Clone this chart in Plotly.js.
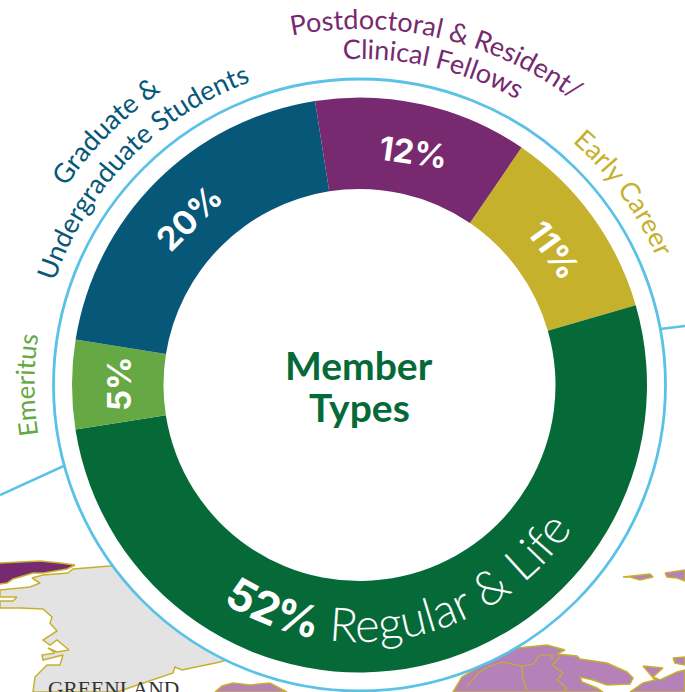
<!DOCTYPE html>
<html>
<head>
<meta charset="utf-8">
<script src="https://cdn.plot.ly/plotly-3.0.1.min.js"></script>
<style>html,body{margin:0;padding:0;background:#fff;overflow:hidden}#chart{width:685px;height:692px}</style>
</head>
<body>
<div id="chart"></div>
<script>
// Data
const categories = ["Early Career", "Regular & Life", "Emeritus", "Graduate & Undergraduate Students", "Postdoctoral & Resident/ Clinical Fellows"];
const shares = [11, 52, 5, 20, 12];
const sliceColors = ["#c6b12d", "#066a38", "#65a844", "#075779", "#772a6f"];

// Map fragments behind the ring
const greenlandX = [130,110,73,68,43,32,40,30,0,0,17,13,0,0,20,43,52,50,57,43,50,57,69,57,48,55,42,43,63,60,47,35,33,117,173,175,182,220,260,260,130];
const greenlandY = [565,566,569,573,575,578,583,587,590,597,597,601,601,608,608,609,617,623,631,640,645,640,650,652,648,653,655,660,655,665,665,677,692,692,673,667,670,662,650,560,565];
const baffinX = [0,20,40,60,75,67,43,33,13,7,0];
const baffinY = [563,562,561,563,565,569,573,573,579,583,584];
const scandX = [453,462,477,500,517,533,547,565,557,577,580,607,627,633,630,607,593,580,582,597,603,453];
const scandY = [692,677,668,655,648,646,645,650,654,656,659,663,672,678,684,685,680,677,682,688,692,692];
const russiaX = [630,643,655,643,663,653,660,677,685,685,630];
const russiaY = [692,683,680,666,668,677,680,672,670,692,692];
const icelandX = [215,222,233,250,270,287,215];
const icelandY = [692,686,683,685,683,692,692];
const arctic1X = [623,650,653,640,630,623];
const arctic1Y = [577,574,577,580,577,577];
const arctic2X = [665,677,685,685,677,667,665];
const arctic2Y = [573,571,570,581,578,577,573];
const arctic3X = [673,685,685,675,673];
const arctic3Y = [658,657,665,663,658];
const border1X = [467,478,488,503,522,533,540,552,552];
const border1Y = [687,673,667,662,666,664,655,655,660];
const border2X = [522,523,527];
const border2Y = [666,680,690];
const border3X = [560,552,563,557,567,563];
const border3Y = [657,665,673,680,688,692];
const leaderLeftX = [0,90];
const leaderLeftY = [495,454];
const leaderRightX = [660,685];
const leaderRightY = [329,326];

// Percent label placement (page px) and curved-label arcs
const pctX = [554, 119, 189, 413];
const pctY = [250, 384, 218, 152];
const pctAngle = [54, -90, -45, 8];
const pctIndex = [0, 2, 3, 4];

const curvedText = ["Graduate &", "Undergraduate Students", "Postdoctoral & Resident/", "Clinical Fellows", "Early Career", "Emeritus"];
const curvedColor = ["#075779", "#075779", "#772a6f", "#772a6f", "#c6b12d", "#65a844"];
const curvedRadius = [354, 322, 356, 326, 323, 325];
const curvedMid = [-45, -45.5, 13, 13, 54, -90];
const curvedSize = [27, 27, 27, 27, 27, 26];

const W = 685, H = 692, CX = 359.5, CY = 385, R = 287.5, RING = 306;

function poly(x, y, fill) {
  return {type:"scatter", mode:"lines", x:x, y:y, fill:"toself", fillcolor:fill,
          line:{color:"#c6b12d", width:1.5}, hoverinfo:"skip", showlegend:false};
}
function line(x, y, color, width) {
  return {type:"scatter", mode:"lines", x:x, y:y, line:{color:color, width:width},
          hoverinfo:"skip", showlegend:false};
}
function domainFor(r) {
  return {x:[(CX-r)/W, (CX+r)/W], y:[(H-CY-r)/H, (H-CY+r)/H]};
}

const traces = [
  poly(greenlandX, greenlandY, "#e3e3e3"),
  poly(baffinX, baffinY, "#772a6f"),
  poly(scandX, scandY, "#b481b8"),
  poly(russiaX, russiaY, "#b481b8"),
  poly(icelandX, icelandY, "#b481b8"),
  poly(arctic1X, arctic1Y, "#b481b8"),
  poly(arctic2X, arctic2Y, "#b481b8"),
  poly(arctic3X, arctic3Y, "#b481b8"),
  line(border1X, border1Y, "#c6b12d", 1.2),
  line(border2X, border2Y, "#c6b12d", 1.2),
  line(border3X, border3Y, "#c6b12d", 1.2),
  line(leaderLeftX, leaderLeftY, "#5bc2e7", 2.5),
  line(leaderRightX, leaderRightY, "#5bc2e7", 2.5),
  {type:"pie", values:[1], labels:["ring"], domain:domainFor(RING), sort:false,
   marker:{colors:["#ffffff"], line:{color:"#5bc2e7", width:2.8}},
   textinfo:"none", hoverinfo:"skip", showlegend:false},
  {type:"pie", values:shares, labels:categories, domain:domainFor(R), hole:196/287.5,
   sort:false, direction:"clockwise", rotation:34.3,
   marker:{colors:sliceColors, line:{width:0}},
   textinfo:"none", hoverinfo:"label+percent", showlegend:false}
];

const annotations = pctIndex.map((k, i) => ({
  xref:"x", yref:"y", x:pctX[i], y:pctY[i], text:shares[k] + "%", textangle:pctAngle[i],
  showarrow:false, font:{family:"Inter, sans-serif", size:33, color:"#ffffff", weight:700}
}));
annotations.push({
  xref:"x", yref:"y", x:359, y:365, text:"Member", showarrow:false,
  font:{family:"Lato, sans-serif", size:39, color:"#066a38", weight:700}
});
annotations.push({
  xref:"x", yref:"y", x:359, y:407, text:"Types", showarrow:false,
  font:{family:"Lato, sans-serif", size:39, color:"#066a38", weight:700}
});
annotations.push({
  xref:"x", yref:"y", x:113, y:689, text:"GREENLAND", showarrow:false,
  font:{family:"Liberation Serif, serif", size:21.5, color:"#333333"}
});

const layout = {
  width:W, height:H, autosize:false, margin:{l:0,r:0,t:0,b:0,pad:0},
  paper_bgcolor:"#ffffff", plot_bgcolor:"rgba(0,0,0,0)", showlegend:false,
  xaxis:{range:[0,W], visible:false, fixedrange:true, domain:[0,1]},
  yaxis:{range:[H,0], visible:false, fixedrange:true, domain:[0,1]},
  annotations:annotations
};

const SVGNS = "http://www.w3.org/2000/svg";
function pt(r, deg) {
  const a = deg * Math.PI / 180;
  return (CX + r * Math.sin(a)).toFixed(2) + " " + (CY - r * Math.cos(a)).toFixed(2);
}
function addCurved(layer, id, d, parts, anchorOffset) {
  const p = document.createElementNS(SVGNS, "path");
  p.setAttribute("id", id); p.setAttribute("d", d); p.setAttribute("fill", "none");
  layer.appendChild(p);
  const t = document.createElementNS(SVGNS, "text");
  t.setAttribute("text-anchor", "middle");
  const tp = document.createElementNS(SVGNS, "textPath");
  tp.setAttribute("href", "#" + id);
  tp.setAttribute("startOffset", anchorOffset || "50%");
  parts.forEach(s => {
    const sp = document.createElementNS(SVGNS, "tspan");
    sp.textContent = s.text;
    sp.setAttribute("style", "font-family:" + s.family + ";font-size:" + s.size + "px;font-weight:" + s.weight + ";fill:" + s.color + ";white-space:pre");
    tp.appendChild(sp);
  });
  t.appendChild(tp); layer.appendChild(t);
}

Plotly.newPlot("chart", traces, layout, {displayModeBar:false, responsive:false}).then(gd => {
  const host = gd.querySelector(".infolayer");
  const g = document.createElementNS(SVGNS, "g");
  g.setAttribute("class", "curved-labels");
  host.appendChild(g);
  curvedText.forEach((txt, i) => {
    const r = curvedRadius[i], m = curvedMid[i];
    addCurved(g, "arc" + i, "M " + pt(r, m - 60) + " A " + r + " " + r + " 0 0 1 " + pt(r, m + 60),
      [{text:txt, family:"Lato, sans-serif", size:curvedSize[i], weight:400, color:curvedColor[i]}]);
  });
  const rb = 257, mb = 168.1;
  addCurved(g, "arcBottom", "M " + pt(rb, mb + 70) + " A " + rb + " " + rb + " 0 0 0 " + pt(rb, mb - 70),
    [{text:shares[1] + "%", family:"Inter, sans-serif", size:44, weight:700, color:"#ffffff"},
     {text:" " + categories[1], family:"Lato, sans-serif", size:47, weight:300, color:"#ffffff"}]);
});
</script>
</body>
</html>
